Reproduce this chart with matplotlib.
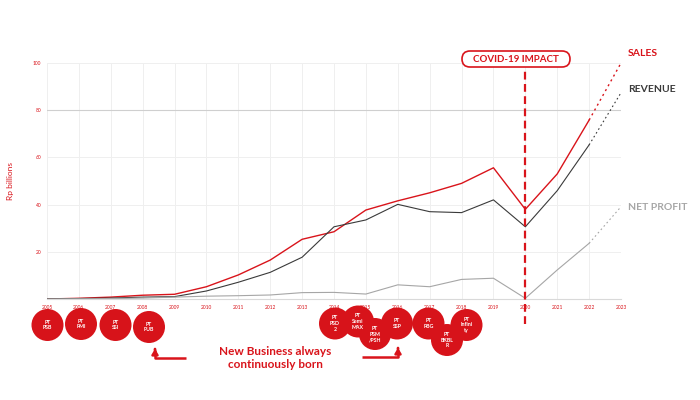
import matplotlib
matplotlib.use("Agg")
import matplotlib.pyplot as plt
from matplotlib.patches import Circle, FancyBboxPatch

years = list(range(2005, 2024))
sales = [0.0, 0.3, 0.8, 1.6, 2.0, 5.2, 10.2, 16.5, 25.3, 28.5, 37.7, 41.6, 45.0, 49.0, 55.6, 38.0, 53.0, 75.8, 100.0]
revenue = [0.1, 0.2, 0.4, 0.8, 1.0, 3.4, 7.1, 11.3, 17.7, 30.6, 33.5, 40.1, 37.0, 36.6, 42.0, 30.6, 45.9, 65.3, 87.4]
net_profit = [0.0, 0.1, 0.2, 0.4, 0.8, 1.2, 1.4, 1.7, 2.7, 2.8, 2.1, 6.0, 5.2, 8.3, 8.8, 0.3, 12.3, 23.6, 39.1]
y_ticks = [20, 40, 60, 80, 100]
covid_year = 2020
companies = ["PT\nPSB", "PT\nPMI", "PT\nSSI", "PT\nPUB", "PT\nPSD\n2", "PT\nSemi\nMAX",
             "PT\nPSM\n/PSH", "PT\nSSP", "PT\nPBG", "PT\nBKBL\nR", "PT\nInfini\nty"]
series_names = ["SALES", "REVENUE", "NET PROFIT"]

RED = "#d9141b"
DARK = "#3a3a3a"
LIGHT = "#a6a6a6"

plt.rcParams['font.family'] = ['Lato', 'DejaVu Sans']

fig = plt.figure(figsize=(7, 4), dpi=100)
ax = fig.add_axes([47/700, 1-299/400, (621-47)/700, (299-63)/400])

for vals, col, lw in [(sales, RED, 1.0), (revenue, DARK, 0.8), (net_profit, LIGHT, 0.8)]:
    ax.plot(years[:-1], vals[:-1], color=col, lw=lw, zorder=3)
    ax.plot(years[-2:], vals[-2:], color=col, lw=lw, ls=(0, (1.5, 2.5)), zorder=3)

ax.set_xlim(years[0], years[-1])
ax.set_ylim(0, 100)
ax.set_xticks(years)
ax.set_xticklabels([str(y) for y in years], fontsize=3.5, color=RED)
ax.set_yticks(y_ticks)
ax.set_yticklabels([str(v) for v in y_ticks], fontsize=3.5, color=RED)
ax.tick_params(length=0, pad=4)
for s in ["top", "right", "left"]:
    ax.spines[s].set_visible(False)
ax.spines["bottom"].set_color("#d9d9d9")
ax.spines["bottom"].set_linewidth(0.8)
ax.grid(True, color="#efefef", lw=0.7)
ax.axhline(80, color="#cfcfcf", lw=0.8, zorder=1)
ax.set_axisbelow(True)
ax.set_ylabel("Rp billions", fontsize=6, color=RED, labelpad=14)

# COVID line
ax.axvline(covid_year, ymin=-0.105, ymax=0.98, color=RED, lw=1.6, ls=(0, (3.5, 2)),
           clip_on=False, zorder=4)

# overlay in pixel coordinates
ov = fig.add_axes([0, 0, 1, 1])
ov.set_xlim(0, 700)
ov.set_ylim(400, 0)
ov.axis("off")
ov.patch.set_visible(False)

box = FancyBboxPatch((462, 51), 108, 16, boxstyle="round,pad=0,rounding_size=8",
                     fc="white", ec=RED, lw=1.2, zorder=5)
ov.add_patch(box)
ov.text(516, 59.5, "COVID-19 IMPACT", color=RED, fontsize=7, fontweight="bold",
        ha="center", va="center", zorder=6)

label_pos = [(628, 54), (628, 90), (628, 207)]
for name, col, (x, y) in zip(series_names, [RED, DARK, LIGHT], label_pos):
    ov.text(x, y, name, color=col, fontsize=7.5, fontweight="bold", ha="left", va="center")

circle_pos = [(47.5, 325), (81, 324), (115.5, 325), (149, 327), (335, 323.5), (358, 321.5),
              (375, 334), (397, 323.5), (428.5, 323.5), (447, 340), (466.5, 325)]
for name, (x, y) in zip(companies, circle_pos):
    ov.add_patch(Circle((x, y), 16, fc="#d7131a", ec="none", zorder=5))
    ov.text(x, y, name, color="white", fontsize=3.8, fontweight="bold", ha="center",
            va="center", linespacing=1.15, zorder=6)

# arrows
ov.plot([186, 155, 155], [358, 358, 350], color=RED, lw=1.8, solid_capstyle="butt")
ov.annotate("", xy=(155, 346), xytext=(155, 352),
            arrowprops=dict(arrowstyle="-|>,head_width=0.18,head_length=0.3", color=RED, lw=1.8))
ov.plot([362, 398, 398], [357, 357, 350], color=RED, lw=1.8, solid_capstyle="butt")
ov.annotate("", xy=(398, 345), xytext=(398, 351),
            arrowprops=dict(arrowstyle="-|>,head_width=0.18,head_length=0.3", color=RED, lw=1.8))

ov.text(275, 358, "New Business always\ncontinuously born", color=RED, fontsize=8.5,
        fontweight="bold", ha="center", va="center", linespacing=1.2)

fig.savefig("out.png", dpi=100)
